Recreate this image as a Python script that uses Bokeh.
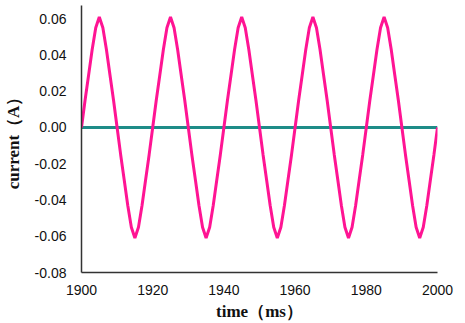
from bokeh.plotting import figure
from bokeh.models import FixedTicker, NumeralTickFormatter, Range1d
from bokeh.embed import file_html
from bokeh.resources import INLINE

# time axis (ms), 1 ms sampling
time_ms = list(range(1900, 2001))

# current (A)
current_a = [
    0.000, 0.015, 0.029, 0.043, 0.055, 0.061, 0.055, 0.043, 0.029, 0.015,
    0.000, -0.015, -0.029, -0.043, -0.055, -0.061, -0.055, -0.043, -0.029, -0.015,
    0.000, 0.015, 0.029, 0.043, 0.055, 0.061, 0.055, 0.043, 0.029, 0.015,
    0.000, -0.015, -0.029, -0.043, -0.055, -0.061, -0.055, -0.043, -0.029, -0.015,
    0.000, 0.015, 0.029, 0.043, 0.055, 0.061, 0.055, 0.043, 0.029, 0.015,
    0.000, -0.015, -0.029, -0.043, -0.055, -0.061, -0.055, -0.043, -0.029, -0.015,
    0.000, 0.015, 0.029, 0.043, 0.055, 0.061, 0.055, 0.043, 0.029, 0.015,
    0.000, -0.015, -0.029, -0.043, -0.055, -0.061, -0.055, -0.043, -0.029, -0.015,
    0.000, 0.015, 0.029, 0.043, 0.055, 0.061, 0.055, 0.043, 0.029, 0.015,
    0.000, -0.015, -0.029, -0.043, -0.055, -0.061, -0.055, -0.043, -0.029, -0.015,
    0.000,
]

# zero reference line
baseline_time = [1900, 2000]
baseline_current = [0.0, 0.0]

x_ticks = [1900, 1920, 1940, 1960, 1980, 2000]
y_ticks = [-0.08, -0.06, -0.04, -0.02, 0.0, 0.02, 0.04, 0.06]

p = figure(
    width=465, height=323,
    output_backend="svg", toolbar_location=None,
    x_range=Range1d(1900, 2000), y_range=Range1d(-0.08, 0.0673),
    min_border_left=81, min_border_right=28, min_border_top=5, min_border_bottom=50,
)
p.outline_line_color = None
p.xgrid.visible = False
p.ygrid.visible = False
p.background_fill_color = "white"
p.border_fill_color = "white"

p.line(baseline_time, baseline_current, line_color="#1E8C88", line_width=3)
p.line(time_ms, current_a, line_color="#FF1493", line_width=3)

for ax in (p.xaxis[0], p.yaxis[0]):
    ax.axis_line_color = "#333333"
    ax.axis_line_width = 1.5
    ax.major_tick_line_color = None
    ax.minor_tick_line_color = None
    ax.major_label_text_font = "Liberation Sans"
    ax.major_label_text_font_size = "14px"
    ax.major_label_text_color = "#111111"
    ax.axis_label_text_font = "Liberation Serif"
    ax.axis_label_text_font_style = "bold"
    ax.axis_label_text_font_size = "17px"
    ax.axis_label_text_color = "#111111"

p.xaxis[0].ticker = FixedTicker(ticks=x_ticks)
p.yaxis[0].ticker = FixedTicker(ticks=y_ticks)
p.yaxis[0].formatter = NumeralTickFormatter(format="0.00")
p.xaxis[0].major_label_standoff = 6
p.yaxis[0].major_label_standoff = 9
p.xaxis[0].axis_label = "time（ms）"
p.yaxis[0].axis_label = "current（A）"
p.xaxis[0].axis_label_standoff = 4
p.yaxis[0].axis_label_standoff = 9

open("out.html", "w").write(file_html(p, INLINE))
